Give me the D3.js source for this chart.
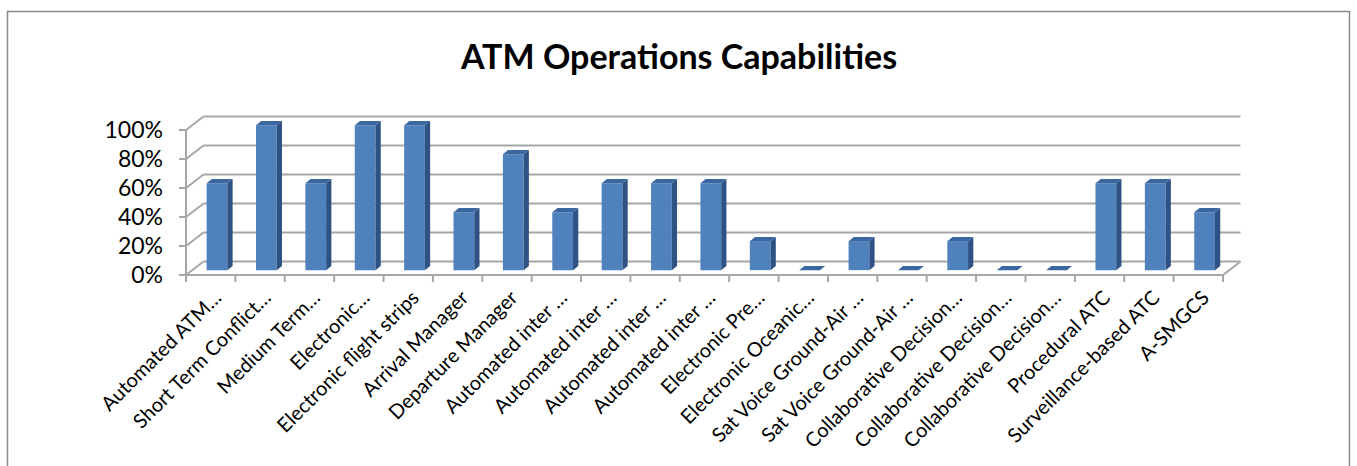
<!DOCTYPE html>
<html>
<head>
<meta charset="utf-8">
<script src="https://cdn.jsdelivr.net/npm/d3@7"></script>
<style>
  body { margin: 0; background: #fff; }
  text { font-family: Lato, "Open Sans", sans-serif; fill: #000; }
</style>
</head>
<body>
<div id="chart"></div>
<script>
const categories = [
  "Automated ATM…", "Short Term Conflict…", "Medium Term…", "Electronic…",
  "Electronic flight strips", "Arrival Manager", "Departure Manager",
  "Automated inter …", "Automated inter …", "Automated inter …", "Automated inter …",
  "Electronic Pre…", "Electronic Oceanic…", "Sat Voice Ground-Air …",
  "Sat Voice Ground-Air …", "Collaborative Decision…", "Collaborative Decision…",
  "Collaborative Decision…", "Procedural ATC", "Surveillance-based ATC", "A-SMGCS"
];
const values = [0.6, 1, 0.6, 1, 1, 0.4, 0.8, 0.4, 0.6, 0.6, 0.6, 0.2, 0, 0.2, 0, 0.2, 0, 0, 0.6, 0.6, 0.4];
const yTicks = [0, 0.2, 0.4, 0.6, 0.8, 1];
const title = "ATM Operations Capabilities";

const W = 1357, H = 466;
const plot = { left: 186, right: 1223, bottom: 275, top: 130 };
const depth = { dx: 17.5, dy: -13.5 };
const barZ = [0.36, 0.66];

const svg = d3.select("#chart")
  .append("svg")
  .attr("width", W)
  .attr("height", H);

svg.append("rect")
  .attr("x", 7.5).attr("y", 11.5)
  .attr("width", 1342).attr("height", 462)
  .attr("fill", "#fff")
  .attr("stroke", "#8a8a8a")
  .attr("stroke-width", 1.5);

svg.append("text")
  .attr("x", 679)
  .attr("y", 69)
  .attr("text-anchor", "middle")
  .style("font-size", "34px")
  .style("font-weight", "bold")
  .text(title);

const xScale = d3.scaleBand()
  .domain(d3.range(categories.length))
  .range([plot.left, plot.right]);
const yScale = d3.scaleLinear().domain([0, 1]).range([plot.bottom, plot.top]);

// screen point for (x pixel on front plane, value, depth 0..1)
const proj = (x, v, z) => [x + z * depth.dx, yScale(v) + z * depth.dy];

const grid = svg.append("g")
  .attr("stroke", "#a6a6a6")
  .attr("stroke-width", 2)
  .attr("fill", "none");

// back wall and side wall gridlines
yTicks.forEach(t => {
  grid.append("path").attr("d", d3.line()([proj(plot.left, t, 1), proj(plot.right, t, 1)]));
  grid.append("path").attr("d", d3.line()([proj(plot.left, t, 0), proj(plot.left, t, 1)]));
});

// floor front and right edges, value axis
grid.append("path").attr("d", d3.line()([proj(plot.left, 0, 0), proj(plot.right, 0, 0), proj(plot.right, 0, 1)]));
grid.append("path").attr("d", d3.line()([proj(plot.left, 0, 0), proj(plot.left, 1, 0)]));

// value ticks and labels
yTicks.forEach(t => {
  grid.append("path").attr("d", d3.line()([[plot.left - 7, yScale(t)], [plot.left, yScale(t)]]));
  svg.append("text")
    .attr("x", 163)
    .attr("y", yScale(t) + 8)
    .attr("text-anchor", "end")
    .style("font-size", "23px")
    .text(d3.format(".0%")(t));
});

// category ticks
const bounds = d3.range(categories.length + 1).map(i => plot.left + i * xScale.bandwidth());
bounds.forEach(b => {
  grid.append("path").attr("d", d3.line()([[b, plot.bottom], [b, plot.bottom + 7]]));
});

// bars
const barW = xScale.bandwidth() * 0.42;
const bars = svg.append("g");
values.forEach((v, i) => {
  const cx = xScale(i) + xScale.bandwidth() / 2;
  const x0 = cx - barW / 2, x1 = cx + barW / 2;
  const [z0, z1] = barZ;
  const poly = pts => "M" + pts.map(p => p.join(",")).join("L") + "Z";
  if (v > 0) {
    bars.append("path")
      .attr("d", poly([proj(x0, 0, z0), proj(x1, 0, z0), proj(x1, v, z0), proj(x0, v, z0)]))
      .attr("fill", "#4f81bd");
    bars.append("path")
      .attr("d", poly([proj(x1, 0, z0), proj(x1, 0, z1), proj(x1, v, z1), proj(x1, v, z0)]))
      .attr("fill", "#2e5283");
  }
  bars.append("path")
    .attr("d", poly([proj(x0, v, z0), proj(x1, v, z0), proj(x1, v, z1), proj(x0, v, z1)]))
    .attr("fill", "#3b67a0");
});

// category labels
categories.forEach((c, i) => {
  const cx = xScale(i) + xScale.bandwidth() / 2 + 12;
  const y = 299;
  svg.append("text")
    .attr("transform", `translate(${cx},${y}) rotate(-45)`)
    .attr("text-anchor", "end")
    .style("font-size", "20px")
    .text(c);
});
</script>
</body>
</html>
